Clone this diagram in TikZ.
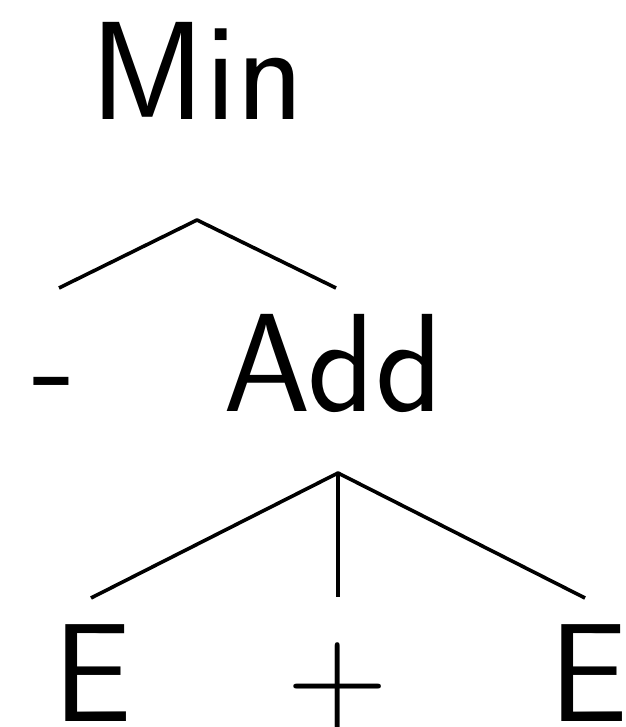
\documentclass[tikz,border=0pt]{standalone}
\usepackage{fontspec}
\begin{document}
\begin{tikzpicture}[x=1pt,y=-1pt,
  lbl/.style={inner sep=0pt, anchor=base, font=\sffamily\fontsize{140pt}{150pt}\selectfont},
  edge/.style={line width=3.6pt, line join=round}]
\useasboundingbox (0,0) rectangle (625,727);
\clip (0,0) rectangle (625,727);
% labels
\node[lbl] (min) at (197.5,120) {Min};
\node[lbl] (hyph) at (54.5,411) {-};
\node[lbl] (add) at (333,411) {Add};
\node[lbl] (e1) at (93,721) {E};
\node[lbl] (plus) at (337.5,721) {+};
\node[lbl] (e2) at (588.5,721) {E};
% connector points
\coordinate (minapex) at (197,220);
\coordinate (minL) at (59,288);
\coordinate (minR) at (336,288);
\coordinate (addapex) at (338,473);
\coordinate (addL) at (91,598);
\coordinate (addM) at (338,597);
\coordinate (addR) at (585,598);
% connectors
\draw[edge] (minL) -- (minapex) -- (minR);
\draw[edge] (addL) -- (addapex) -- (addR);
\draw[edge] (addapex) -- (addM);
\end{tikzpicture}
\end{document}
